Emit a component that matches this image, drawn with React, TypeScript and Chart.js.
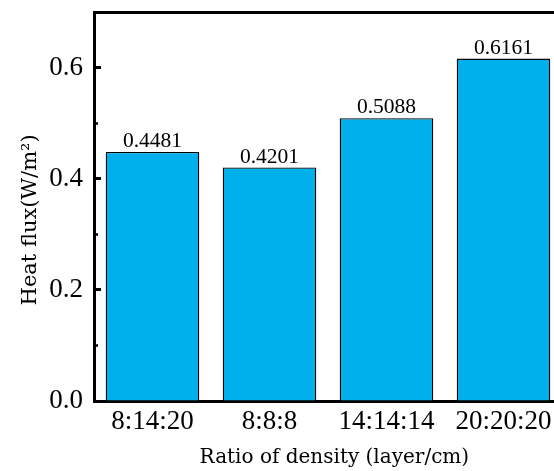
import React, { useEffect, useRef } from "react";
import { Chart, registerables } from "chart.js";

Chart.register(...registerables);

const categories = ["8:14:20", "8:8:8", "14:14:14", "20:20:20"];
const heatFlux = [0.4481, 0.4201, 0.5088, 0.6161];
const yMin = 0;
const yMax = 0.7;
const yMajorStep = 0.2;
const yMinorStep = 0.1;
const yTitle = "Heat flux(W/m\u00B2)";
const xTitle = "Ratio of density (layer/cm)";

const SERIF = "'Liberation Serif', 'Times New Roman', serif";
const TITLE_FONT = "'DejaVu Serif', serif";

const valueLabels = {
  id: "valueLabels",
  afterDatasetsDraw(chart: any) {
    const ctx = chart.ctx;
    const meta = chart.getDatasetMeta(0);
    ctx.save();
    ctx.font = `21.5px ${SERIF}`;
    ctx.fillStyle = "#000";
    ctx.textAlign = "center";
    ctx.textBaseline = "alphabetic";
    meta.data.forEach((bar: any, i: number) => {
      const v = chart.data.datasets[0].data[i] as number;
      ctx.fillText(v.toFixed(4), bar.x, bar.y - 5);
    });
    ctx.restore();
  },
};

const noPad = (s: any) => {
  s.paddingTop = 0;
  s.paddingBottom = 0;
  s.paddingLeft = 0;
  s.paddingRight = 0;
};

export default function App() {
  const ref = useRef<HTMLCanvasElement | null>(null);

  useEffect(() => {
    if (!ref.current) return;
    const chart = new Chart(ref.current, {
      type: "bar",
      data: {
        labels: categories,
        datasets: [
          {
            data: heatFlux,
            backgroundColor: "rgb(0,176,236)",
            borderColor: "#000",
            borderWidth: 1.3,
            barPercentage: 0.8,
            categoryPercentage: 1.0,
          },
        ],
      },
      options: {
        animation: false,
        responsive: false,
        devicePixelRatio: 1,
        layout: { padding: { left: 0, right: 8, top: 12, bottom: 0 } },
        plugins: {
          legend: { display: false },
          tooltip: { enabled: false },
        },
        scales: {
          x: {
            type: "category",
            position: "bottom",
            offset: true,
            grid: { display: false, drawTicks: false },
            border: { display: true, color: "#000", width: 3 },
            ticks: {
              color: "#000",
              padding: 5,
              font: { family: SERIF, size: 27 },
              maxRotation: 0,
              autoSkip: false,
            },
            title: {
              display: true,
              text: "  " + xTitle,
              color: "#000",
              font: { family: TITLE_FONT, size: 20 },
              padding: { top: 0, bottom: 1 },
            },
            afterFit: (s: any) => {
              s.height = 70;
              noPad(s);
            },
          },
          x2: {
            type: "category",
            position: "top",
            grid: { display: false, drawTicks: false },
            border: { display: true, color: "#000", width: 3 },
            ticks: { display: false },
            afterFit: (s: any) => {
              s.height = 0;
              noPad(s);
            },
          },
          y: {
            type: "linear",
            position: "left",
            weight: 1,
            min: yMin,
            max: yMax,
            grid: {
              drawOnChartArea: false,
              drawTicks: true,
              tickLength: -7,
              tickWidth: 3,
              tickColor: "#000",
            },
            border: { display: true, color: "#000", width: 3 },
            ticks: {
              stepSize: yMajorStep,
              includeBounds: false,
              color: "#000",
              padding: 18,
              font: { family: SERIF, size: 27 },
              callback: (v: any) => Number(v).toFixed(1),
            },
            title: {
              display: true,
              text: yTitle + "    ",
              color: "#000",
              font: { family: TITLE_FONT, size: 21 },
              padding: { top: 18, bottom: 0 },
            },
            afterFit: (s: any) => {
              s.width = 94;
              noPad(s);
            },
          },
          y2: {
            type: "linear",
            position: "left",
            weight: 0,
            min: yMin,
            max: yMax,
            grid: {
              drawOnChartArea: false,
              drawTicks: true,
              tickLength: -4,
              tickWidth: 2.5,
              tickColor: "#000",
            },
            border: { display: false },
            ticks: {
              stepSize: yMinorStep,
              includeBounds: false,
              display: false,
            },
            afterFit: (s: any) => {
              s.width = 0;
              noPad(s);
            },
          },
        },
      },
      plugins: [valueLabels],
    });
    return () => chart.destroy();
  }, []);

  return (
    <div
      style={{
        position: "absolute",
        left: 0,
        top: 0,
        width: 554,
        height: 471,
        overflow: "hidden",
        background: "#fff",
      }}
    >
      <canvas ref={ref} width={570} height={471} style={{ display: "block", width: 570, height: 471 }} />
    </div>
  );
}
